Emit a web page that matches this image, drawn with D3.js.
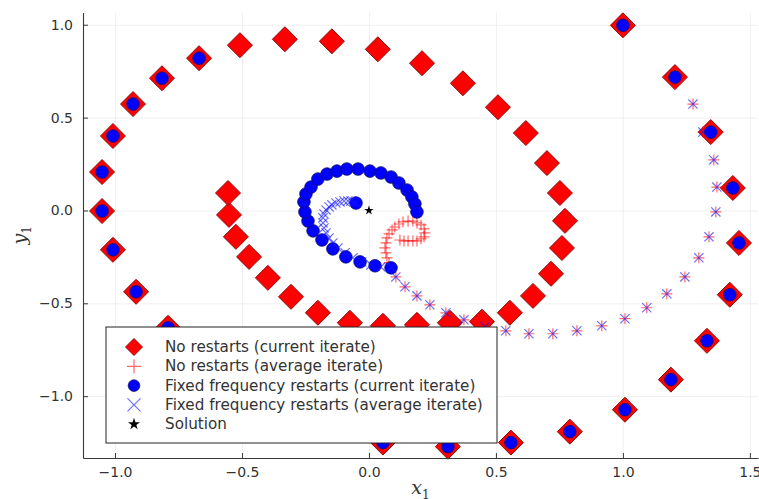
<!DOCTYPE html>
<html>
<head>
<meta charset="utf-8">
<script src="https://cdn.jsdelivr.net/npm/d3@7"></script>
<style>
  body { margin: 0; background: #fff; }
  svg { display: block; }
</style>
</head>
<body>
<div id="chart"></div>
<script>
// DATA ************************************************************************
// no restarts, current iterate (red diamonds)
const noRestartCur = [
  [1.000, 0.997], [1.205, 0.718], [1.346, 0.422], [1.433, 0.121], [1.457, -0.175],
  [1.421, -0.454], [1.331, -0.702], [1.189, -0.911], [1.008, -1.073], [0.791, -1.191],
  [0.559, -1.250], [0.311, -1.272], [0.055, -1.250], [-0.23, -1.18], [-0.47, -1.03],
  [-0.66, -0.84], [-0.791, -0.632], [-0.917, -0.438], [-1.008, -0.212], [-1.051, -0.003],
  [-1.051, 0.207], [-1.008, 0.401], [-0.929, 0.573], [-0.815, 0.712], [-0.669, 0.820],
  [-0.508, 0.890], [-0.331, 0.922], [-0.146, 0.911], [0.035, 0.868], [0.209, 0.793],
  [0.370, 0.685], [0.508, 0.556], [0.618, 0.417], [0.701, 0.255], [0.752, 0.094],
  [0.772, -0.056], [0.760, -0.202], [0.717, -0.341], [0.646, -0.460], [0.555, -0.551],
  [0.445, -0.599], [0.319, -0.605], [0.189, -0.616], [0.055, -0.621], [-0.075, -0.605],
  [-0.201, -0.551], [-0.307, -0.465], [-0.398, -0.363], [-0.472, -0.250], [-0.524, -0.142],
  [-0.551, -0.024], [-0.555, 0.094]
];

// averages of the first cycle (shared by both average series)
const firstCycleAvg = [
  [1.276, 0.573], [1.315, 0.422], [1.358, 0.272], [1.370, 0.126], [1.366, -0.008],
  [1.339, -0.142], [1.299, -0.255], [1.244, -0.358], [1.173, -0.449], [1.094, -0.524],
  [1.008, -0.583], [0.917, -0.621], [0.819, -0.648], [0.724, -0.664], [0.630, -0.664],
  [0.539, -0.648], [0.457, -0.626], [0.374, -0.589], [0.303, -0.551], [0.240, -0.508],
  [0.189, -0.460], [0.142, -0.411], [0.106, -0.358], [0.087, -0.309]
];

// no restarts, average iterate (red +)
const noRestartAvg = firstCycleAvg.concat([
  [0.079, -0.282], [0.071, -0.255], [0.067, -0.228], [0.063, -0.202], [0.067, -0.175],
  [0.071, -0.148], [0.079, -0.126], [0.091, -0.105], [0.102, -0.089], [0.118, -0.073],
  [0.134, -0.062], [0.154, -0.057], [0.173, -0.057], [0.189, -0.067], [0.205, -0.078],
  [0.217, -0.099], [0.220, -0.121], [0.217, -0.142], [0.205, -0.153], [0.189, -0.164],
  [0.173, -0.164], [0.154, -0.164], [0.138, -0.164], [0.122, -0.159]
]);

// fixed frequency restarts, current iterate (blue circles)
const fixedCur = noRestartCur.slice(0, 25).concat([
  [0.087, -0.309], [0.024, -0.298], [-0.035, -0.277], [-0.091, -0.250], [-0.142, -0.207],
  [-0.185, -0.159], [-0.220, -0.110], [-0.240, -0.057], [-0.252, -0.008], [-0.256, 0.046],
  [-0.248, 0.089], [-0.228, 0.126], [-0.201, 0.169], [-0.165, 0.196], [-0.126, 0.212],
  [-0.087, 0.223], [-0.043, 0.223], [0.004, 0.212], [0.047, 0.202], [0.087, 0.180],
  [0.118, 0.148], [0.150, 0.110], [0.169, 0.073], [0.181, 0.035], [0.189, -0.008],
  [-0.051, 0.040]
]);

// fixed frequency restarts, average iterate (blue x)
const fixedAvg = firstCycleAvg.concat([
  [0.047, -0.304], [0.008, -0.293], [-0.028, -0.277], [-0.063, -0.255], [-0.094, -0.228],
  [-0.122, -0.202], [-0.142, -0.175], [-0.157, -0.148], [-0.169, -0.121], [-0.177, -0.094],
  [-0.181, -0.067], [-0.181, -0.040], [-0.177, -0.019], [-0.169, 0.003], [-0.157, 0.019],
  [-0.146, 0.030], [-0.130, 0.040], [-0.114, 0.046], [-0.098, 0.051], [-0.083, 0.051],
  [-0.071, 0.051], [-0.059, 0.046], [-0.051, 0.040]
]);

const solution = [[0, 0]];

const xTicks = [-1.0, -0.5, 0.0, 0.5, 1.0, 1.5];
const yTicks = [-1.0, -0.5, 0.0, 0.5, 1.0];
const legendLabels = [
  "No restarts (current iterate)",
  "No restarts (average iterate)",
  "Fixed frequency restarts (current iterate)",
  "Fixed frequency restarts (average iterate)",
  "Solution"
];

// LAYOUT **********************************************************************
const width = 759, height = 499;
const mLeft = 83, mRight = 758, mTop = 12.5, mBottom = 458;
const font = "DejaVu Sans, sans-serif";

const svg = d3.select("#chart").append("svg")
  .attr("width", width)
  .attr("height", height);
svg.append("rect").attr("width", width).attr("height", height).attr("fill", "#fff");

const xScale = d3.scaleLinear().domain([-1.126, 1.532]).range([mLeft, mRight]);
const yScale = d3.scaleLinear().domain([-1.333, 1.066]).range([mBottom, mTop]);
const fmt = d3.format(".1f");

// GRID
svg.append("g")
  .attr("transform", `translate(0, ${mBottom})`)
  .call(d3.axisBottom(xScale).tickValues(xTicks).tickSize(-(mBottom - mTop)).tickFormat(""))
  .call(g => g.select(".domain").remove())
  .call(g => g.selectAll("line").attr("stroke", "#ececec").attr("stroke-width", 0.8));
svg.append("g")
  .attr("transform", `translate(${mLeft}, 0)`)
  .call(d3.axisLeft(yScale).tickValues(yTicks).tickSize(-(mRight - mLeft)).tickFormat(""))
  .call(g => g.select(".domain").remove())
  .call(g => g.selectAll("line").attr("stroke", "#ececec").attr("stroke-width", 0.8));

// MARKERS *********************************************************************
const diamond = r => `M0,${-r}L${r},0L0,${r}L${-r},0Z`;
const plus = r => `M${-r},0H${r}M0,${-r}V${r}`;
const cross = r => `M${-r},${-r}L${r},${r}M${-r},${r}L${r},${-r}`;
const redA = "rgba(255,0,0,0.6)", blueA = "rgba(20,20,255,0.62)";

const plot = svg.append("g");

plot.selectAll(".dia").data(noRestartCur).enter().append("path")
  .attr("class", "dia")
  .attr("transform", d => `translate(${xScale(d[0])},${yScale(d[1])})`)
  .attr("d", diamond(12.5))
  .attr("fill", "#ff0000")
  .attr("stroke", "#8a1010")
  .attr("stroke-width", 1);

plot.selectAll(".plus").data(noRestartAvg).enter().append("path")
  .attr("class", "plus")
  .attr("transform", d => `translate(${xScale(d[0])},${yScale(d[1])})`)
  .attr("d", plus(5.5))
  .attr("fill", "none")
  .attr("stroke", redA)
  .attr("stroke-width", 1.2);

plot.selectAll(".circ").data(fixedCur).enter().append("circle")
  .attr("class", "circ")
  .attr("cx", d => xScale(d[0]))
  .attr("cy", d => yScale(d[1]))
  .attr("r", 6.3)
  .attr("fill", "#0000ff")
  .attr("stroke", "#10106a")
  .attr("stroke-width", 0.8);

plot.selectAll(".cross").data(fixedAvg).enter().append("path")
  .attr("class", "cross")
  .attr("transform", d => `translate(${xScale(d[0])},${yScale(d[1])})`)
  .attr("d", cross(4.6))
  .attr("fill", "none")
  .attr("stroke", blueA)
  .attr("stroke-width", 1.2);

plot.selectAll(".star").data(solution).enter().append("path")
  .attr("class", "star")
  .attr("transform", d => `translate(${xScale(d[0])},${yScale(d[1])})`)
  .attr("d", d3.symbol(d3.symbolStar, 28)())
  .attr("fill", "#000");

// AXES ************************************************************************
const xAxis = svg.append("g")
  .attr("transform", `translate(0, ${mBottom})`)
  .call(d3.axisBottom(xScale).tickValues(xTicks).tickSizeInner(-5).tickSizeOuter(0)
    .tickPadding(9).tickFormat(fmt));
const yAxis = svg.append("g")
  .attr("transform", `translate(${mLeft}, 0)`)
  .call(d3.axisLeft(yScale).tickValues(yTicks).tickSizeInner(-5).tickSizeOuter(0)
    .tickPadding(10).tickFormat(fmt));
[xAxis, yAxis].forEach(a => {
  a.select(".domain").attr("stroke", "#3a3a3a").attr("stroke-width", 1.1);
  a.selectAll(".tick line").attr("stroke", "#3a3a3a").attr("stroke-width", 1);
  a.selectAll("text").attr("font-family", font).attr("font-size", 14).attr("fill", "#333");
});

// axis labels
const xl = svg.append("text")
  .attr("x", (mLeft + mRight) / 2)
  .attr("y", 494)
  .attr("text-anchor", "middle")
  .attr("font-family", "DejaVu Serif, serif")
  .attr("fill", "#333");
xl.append("tspan").attr("font-style", "italic").attr("font-size", 19).text("x");
xl.append("tspan").attr("font-size", 12).attr("dy", 5).text("1");

const yl = svg.append("text")
  .attr("transform", `translate(26, ${(mTop + mBottom) / 2}) rotate(-90)`)
  .attr("text-anchor", "middle")
  .attr("font-family", "DejaVu Serif, serif")
  .attr("fill", "#333");
yl.append("tspan").attr("font-style", "italic").attr("font-size", 19).text("y");
yl.append("tspan").attr("font-size", 12).attr("dy", 5).text("1");

// LEGEND **********************************************************************
const legend = svg.append("g");
legend.append("rect")
  .attr("x", 106).attr("y", 327).attr("width", 391).attr("height", 116)
  .attr("fill", "#fff").attr("stroke", "#222").attr("stroke-width", 1);

const rowY = i => 347 + i * 19.3;
const mx = 134;
legend.append("path").attr("transform", `translate(${mx},${rowY(0)})`)
  .attr("d", diamond(8.5)).attr("fill", "#ff0000").attr("stroke", "#8a1010");
legend.append("path").attr("transform", `translate(${mx},${rowY(1)})`)
  .attr("d", plus(7)).attr("fill", "none").attr("stroke", redA).attr("stroke-width", 1.2);
legend.append("circle").attr("cx", mx).attr("cy", rowY(2)).attr("r", 5.8)
  .attr("fill", "#0000ff").attr("stroke", "#10106a").attr("stroke-width", 0.8);
legend.append("path").attr("transform", `translate(${mx},${rowY(3)})`)
  .attr("d", cross(6.5)).attr("fill", "none").attr("stroke", blueA).attr("stroke-width", 1.2);
legend.append("path").attr("transform", `translate(${mx},${rowY(4)})`)
  .attr("d", d3.symbol(d3.symbolStar, 45)()).attr("fill", "#000");

legend.selectAll(".lt").data(legendLabels).enter().append("text")
  .attr("class", "lt")
  .attr("x", 165)
  .attr("y", (d, i) => rowY(i) + 5)
  .attr("font-family", font)
  .attr("font-size", 15.2)
  .attr("fill", "#333")
  .text(d => d);
</script>
</body>
</html>
